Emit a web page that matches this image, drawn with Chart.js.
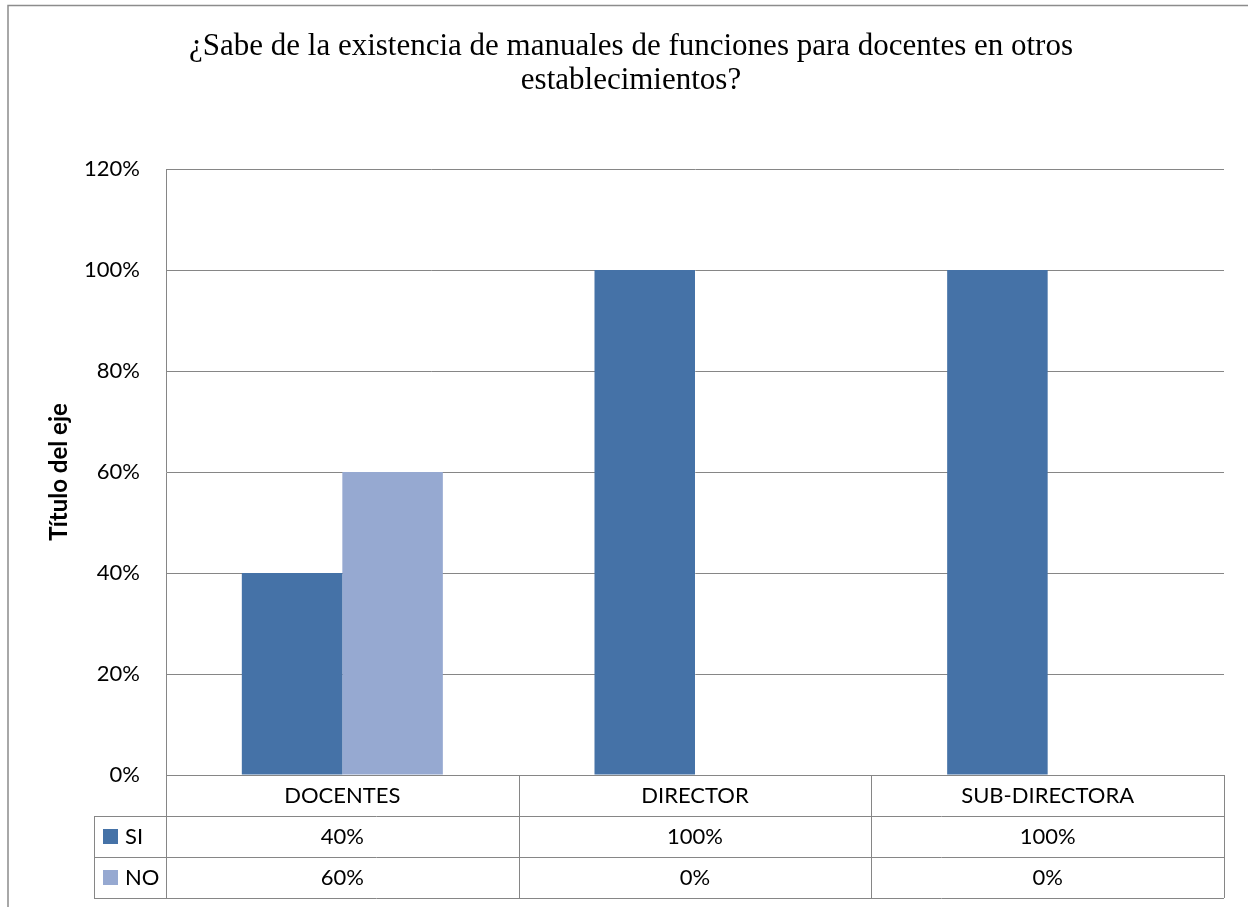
<!DOCTYPE html>
<html>
<head>
<meta charset="utf-8">
<script src="https://cdn.jsdelivr.net/npm/chart.js@4.4.1/dist/chart.umd.min.js"></script>
<style>
body { margin: 0; background: #fff; }
canvas { display: block; }
</style>
</head>
<body>
<canvas id="chart" width="1248" height="907"></canvas>
<script>
const titleLines = ['¿Sabe de la existencia de manuales de funciones para docentes en otros', 'establecimientos?'];
const categories = ['DOCENTES', 'DIRECTOR', 'SUB-DIRECTORA'];
const seriesNames = ['SI', 'NO'];
const siValues = [40, 100, 100];
const noValues = [60, 0, 0];
const yAxisTitle = 'Título del eje';

const siColor = '#4572A7';
const noColor = '#96A9D1';
const lineColor = '#868686';
const labelFont = '22px Lato';

// outer frame + title drawn on the canvas
const framePlugin = {
    id: 'frame',
    beforeDraw(chart) {
        const ctx = chart.ctx;
        ctx.save();
        ctx.fillStyle = '#fff';
        ctx.fillRect(0, 0, chart.width, chart.height);
        ctx.strokeStyle = '#8c8c8c';
        ctx.lineWidth = 1.5;
        ctx.beginPath();
        ctx.moveTo(8, chart.height);
        ctx.lineTo(8, 5.5);
        ctx.lineTo(chart.width, 5.5);
        ctx.stroke();
        ctx.fillStyle = '#000';
        ctx.font = '31px "Liberation Serif"';
        ctx.textAlign = 'center';
        ctx.textBaseline = 'middle';
        ctx.fillText(titleLines[0], 631, 47);
        ctx.fillText(titleLines[1], 631, 81);
        ctx.restore();
    }
};

// data table under the plot, like the Excel one
const tablePlugin = {
    id: 'dataTable',
    afterDraw(chart) {
        const ctx = chart.ctx;
        const x = chart.scales.x;
        const area = chart.chartArea;
        const rowH = 41;
        const top = area.bottom;
        const keyLeft = 94;
        const colW = (x.right - x.left) / categories.length;
        const rows = [siValues, noValues];
        const colors = [siColor, noColor];

        ctx.save();
        ctx.strokeStyle = lineColor;
        ctx.lineWidth = 1;
        ctx.beginPath();
        // horizontal lines
        ctx.moveTo(x.left, top + 0.5);
        ctx.lineTo(x.right, top + 0.5);
        for (let r = 1; r <= 3; r++) {
            const y = Math.round(top + r * rowH) + 0.5;
            ctx.moveTo(keyLeft, y);
            ctx.lineTo(x.right, y);
        }
        // vertical lines
        for (let c = 0; c <= categories.length; c++) {
            const xx = Math.round(x.left + c * colW) + 0.5;
            ctx.moveTo(xx, top);
            ctx.lineTo(xx, top + 3 * rowH);
        }
        ctx.moveTo(keyLeft + 0.5, top + rowH);
        ctx.lineTo(keyLeft + 0.5, top + 3 * rowH);
        ctx.stroke();

        ctx.fillStyle = '#000';
        ctx.font = labelFont;
        ctx.textAlign = 'center';
        ctx.textBaseline = 'middle';
        categories.forEach((cat, i) => {
            const cx = x.getPixelForValue(i);
            ctx.fillText(cat, cx, top + rowH / 2);
            rows.forEach((vals, r) => {
                ctx.fillText(vals[i] + '%', cx, top + rowH * (r + 1.5));
            });
        });

        seriesNames.forEach((name, r) => {
            const cy = top + rowH * (r + 1.5);
            ctx.fillStyle = colors[r];
            ctx.fillRect(103, cy - 7.5, 15, 15);
            ctx.fillStyle = '#000';
            ctx.textAlign = 'left';
            ctx.fillText(name, 125, cy);
        });
        ctx.restore();
    }
};

const ctx = document.getElementById('chart').getContext('2d');
const chart = new Chart(ctx, {
    type: 'bar',
    data: {
        labels: categories,
        datasets: [
            {
                label: seriesNames[0],
                data: siValues,
                backgroundColor: siColor,
                borderWidth: 0,
                categoryPercentage: 0.57,
                barPercentage: 1.0
            },
            {
                label: seriesNames[1],
                data: noValues,
                backgroundColor: noColor,
                borderWidth: 0,
                categoryPercentage: 0.57,
                barPercentage: 1.0
            }
        ]
    },
    options: {
        responsive: false,
        animation: false,
        layout: {
            padding: { left: 8, right: 24, top: 169, bottom: 0 }
        },
        plugins: {
            legend: { display: false },
            tooltip: { enabled: false },
            title: { display: false }
        },
        scales: {
            x: {
                ticks: { display: false },
                grid: { display: false },
                border: { display: true, color: lineColor },
                afterFit(scale) {
                    scale.height = 907 - 775;
                }
            },
            y: {
                min: 0,
                max: 120,
                ticks: {
                    stepSize: 20,
                    padding: 26,
                    color: '#000',
                    font: { family: 'Lato', size: 22 },
                    callback: v => v + '%'
                },
                grid: { color: lineColor, drawTicks: false },
                border: { display: true, color: lineColor },
                title: {
                    display: true,
                    text: yAxisTitle,
                    color: '#000',
                    font: { family: 'Lato', size: 24, weight: 'bold' },
                    padding: { top: 37, bottom: 0 }
                },
                afterFit(scale) {
                    scale.width = 166 - 8;
                }
            }
        }
    },
    plugins: [framePlugin, tablePlugin]
});
</script>
</body>
</html>
